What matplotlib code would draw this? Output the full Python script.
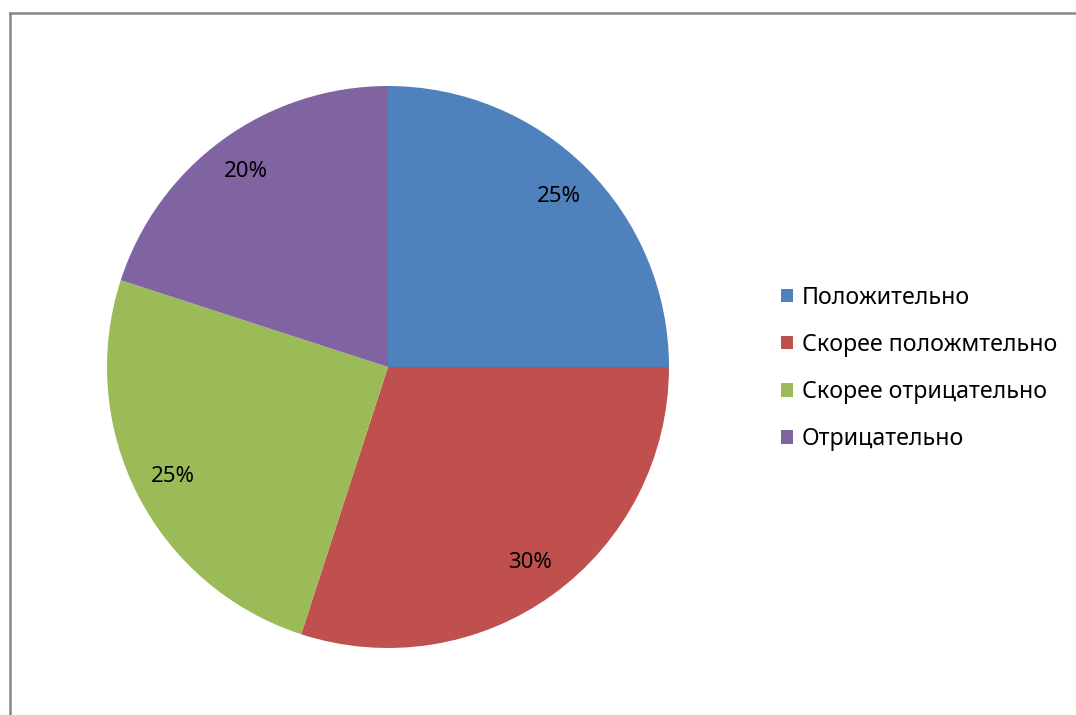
import matplotlib.pyplot as plt
from matplotlib.lines import Line2D

plt.rcParams['font.family'] = ['Noto Sans', 'DejaVu Sans']

categories = ['Положительно', 'Скорее положмтельно', 'Скорее отрицательно', 'Отрицательно']
shares = [25, 30, 25, 20]
colors = ['#4F81BD', '#C0504D', '#9BBB59', '#8064A2']

W, H = 1076, 715
fig = plt.figure(figsize=(W / 100, H / 100), dpi=100)

# pie centred at (388, 367) px with radius ~281 px
cx, cy, r = 388, 367, 281
ax = fig.add_axes([(cx - r) / W, (H - cy - r) / H, 2 * r / W, 2 * r / H])
wedges, texts, autotexts = ax.pie(
    shares, colors=colors, startangle=90, counterclock=False,
    autopct='%d%%', pctdistance=0.86, radius=1,
    wedgeprops=dict(edgecolor='none'),
    textprops=dict(fontsize=16, color='#000000'),
)
ax.set_xlim(-1, 1)
ax.set_ylim(-1, 1)
ax.set_aspect('equal')
ax.axis('off')

fig.legend(wedges, categories, loc='center left',
           bbox_to_anchor=(760 / W, 1 - 368.5 / H), frameon=False,
           fontsize=16.7, handlelength=0.52, handleheight=0.52,
           handletextpad=0.38, labelspacing=1.0)

# chart frame (top and left edges visible)
fig.add_artist(Line2D([10 / W, 1], [1 - 13 / H, 1 - 13 / H], color='#868686', lw=1.8))
fig.add_artist(Line2D([10 / W, 10 / W], [1 - 13 / H, 0], color='#868686', lw=1.8))

fig.savefig('out.png', dpi=100)
